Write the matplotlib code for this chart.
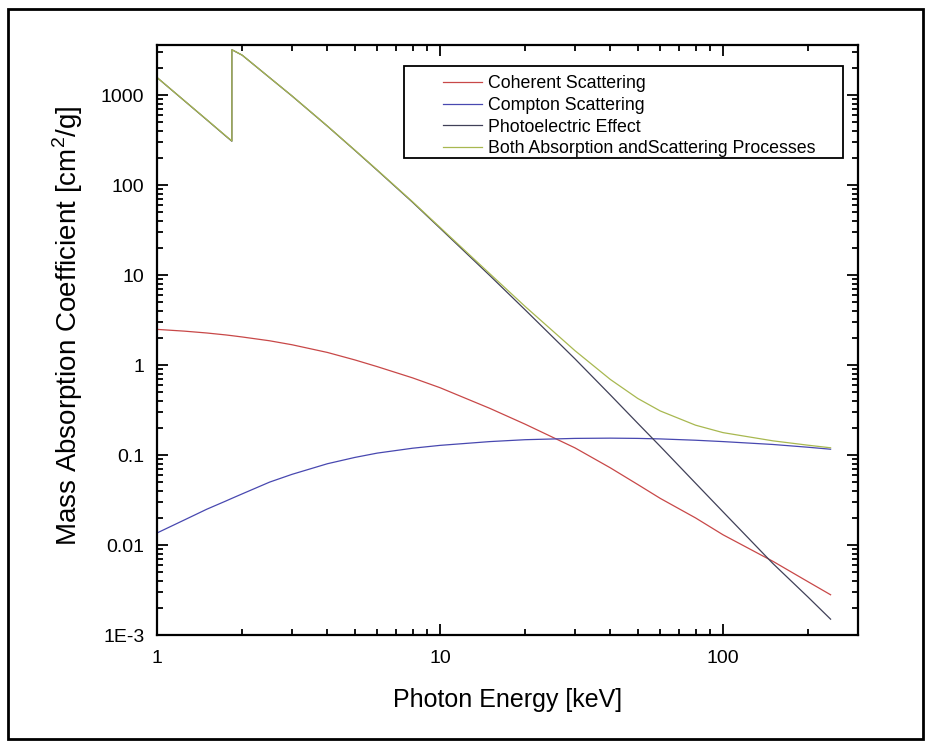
import matplotlib
matplotlib.use("Agg")
import matplotlib.pyplot as plt
from matplotlib.ticker import LogLocator, FixedLocator, NullFormatter
from matplotlib.patches import Rectangle

plt.rcParams['font.family'] = ['Liberation Sans', 'DejaVu Sans']
plt.rcParams['mathtext.fontset'] = 'custom'
plt.rcParams['mathtext.rm'] = 'Liberation Sans'

# ---- data (keV, cm^2/g) ----
energy = [1.0, 1.25, 1.5, 1.75, 1.839, 1.839, 2.0, 2.5, 3.0, 4.0, 5.0, 6.0, 8.0,
          10.0, 15.0, 20.0, 30.0, 40.0, 50.0, 60.0, 80.0, 100.0, 150.0, 200.0, 240.0]
coherent = [2.49, 2.38, 2.27, 2.16, 2.12, 2.12, 2.05, 1.86, 1.68, 1.38, 1.14, 0.96, 0.72,
            0.56, 0.33, 0.22, 0.12, 0.072, 0.047, 0.033, 0.020, 0.013, 0.0066, 0.0039, 0.0028]
compton = [0.0136, 0.019, 0.025, 0.0308, 0.033, 0.033, 0.037, 0.050, 0.061, 0.080, 0.094, 0.105, 0.119,
           0.128, 0.141, 0.148, 0.153, 0.154, 0.153, 0.151, 0.146, 0.141, 0.131, 0.122, 0.116]
photo = [1567, 863, 530, 350, 307, 3190, 2775, 1561, 976, 451.5, 243.5, 146, 64.4,
         33.2, 9.87, 4.10, 1.17, 0.465, 0.225, 0.125, 0.0486, 0.0234, 0.00624, 0.00263, 0.0015]
total = [1570, 865, 532, 352, 309, 3192, 2777, 1563, 978, 453, 244.7, 147.1, 65.2,
         33.9, 10.34, 4.47, 1.443, 0.691, 0.425, 0.309, 0.2146, 0.1774, 0.1438, 0.1285, 0.1203]

series_names = ["Coherent Scattering", "Compton Scattering", "Photoelectric Effect",
                "Both Absorption andScattering Processes"]
series_colors = ["#c84848", "#4848b0", "#404058", "#a8b850"]

ytick_vals = [1e-3, 1e-2, 1e-1, 1, 10, 100, 1000]
ytick_labels = ["1E-3", "0.01", "0.1", "1", "10", "100", "1000"]
xtick_vals = [1, 10, 100]
xtick_labels = ["1", "10", "100"]

fig = plt.figure(figsize=(9.35, 7.49), dpi=100)
W, H = 935, 749
ax = fig.add_axes([157 / W, 1 - 635 / H, (858 - 157) / W, (635 - 45) / H])

for y, name, c in zip([coherent, compton, photo, total], series_names, series_colors):
    ax.plot(energy, y, color=c, lw=0.9, label=name)

ax.set_xscale('log')
ax.set_yscale('log')
ax.set_xlim(1, 300)
ax.set_ylim(1e-3, 3600)

ax.xaxis.set_major_locator(FixedLocator(xtick_vals))
ax.set_xticklabels(xtick_labels)
ax.yaxis.set_major_locator(FixedLocator(ytick_vals))
ax.set_yticklabels(ytick_labels)
ax.xaxis.set_minor_locator(LogLocator(base=10, subs=range(2, 10), numticks=50))
ax.yaxis.set_minor_locator(LogLocator(base=10, subs=range(2, 10), numticks=50))
ax.xaxis.set_minor_formatter(NullFormatter())
ax.yaxis.set_minor_formatter(NullFormatter())

ax.tick_params(which='both', direction='in', top=True, right=True, width=1.3)
ax.tick_params(which='major', length=8, labelsize=14)
ax.tick_params(axis='y', which='major', pad=9)
ax.tick_params(axis='x', which='major', pad=11)
ax.tick_params(which='minor', length=4.5)
for s in ax.spines.values():
    s.set_linewidth(1.6)

ax.set_xlabel("Photon Energy [keV]", fontsize=18)
ax.set_ylabel(r"Mass Absorption Coefficient [cm$^\mathregular{2}$/g]", fontsize=20)
ax.xaxis.set_label_coords(0.5, -0.089)
ax.yaxis.set_label_coords(-0.103, 0.524)

leg = ax.legend(loc='upper left', bbox_to_anchor=(0.408, 0.949), frameon=False,
                fontsize=12.8, borderpad=0, borderaxespad=0, handlelength=2.2,
                handletextpad=0.35, labelspacing=0.27)
ax.add_patch(Rectangle((0.352, 0.808), 0.979 - 0.352, 0.964 - 0.808, transform=ax.transAxes,
                       fill=False, edgecolor='black', lw=1.3, zorder=5))

# outer frame
fig.add_artist(Rectangle((8 / W, 1 - 739 / H), (923 - 8) / W, (739 - 9) / H,
                         transform=fig.transFigure, fill=False, edgecolor='black', lw=2))

fig.savefig("out.png", dpi=100)
